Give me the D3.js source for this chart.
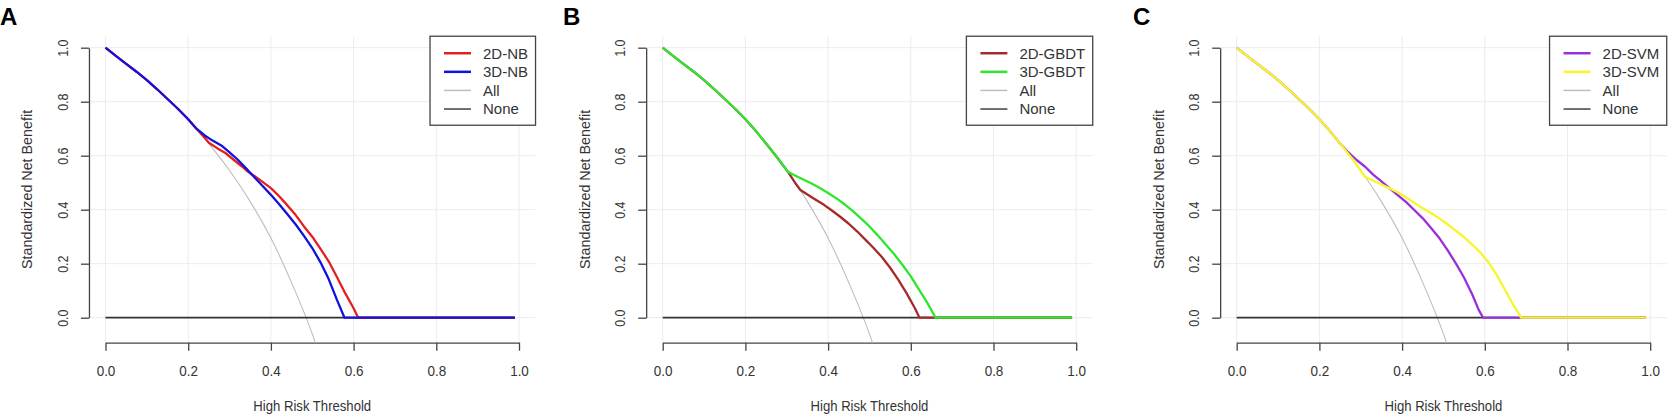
<!DOCTYPE html>
<html>
<head>
<meta charset="utf-8">
<script src="https://cdn.jsdelivr.net/npm/d3@7"></script>
<style>
  body { margin: 0; background: #fff; }
  text { font-family: "Liberation Sans", Arial, sans-serif; }
</style>
</head>
<body>
<svg id="chart" width="1674" height="419"></svg>
<script>
// Ticks
const xTicks = [0, 0.2, 0.4, 0.6, 0.8, 1.0];
const yTicks = [0, 0.2, 0.4, 0.6, 0.8, 1.0];

// Reference strategies (same in the three panels)
const treatAll = [[0, 1.0], [0.05, 0.94], [0.10, 0.88], [0.15, 0.81], [0.20, 0.735], [0.25, 0.645],
  [0.30, 0.545], [0.35, 0.43], [0.40, 0.295], [0.45, 0.13], [0.50, -0.06], [0.52, -0.15]];
const treatNone = [[0, 0], [0.99, 0]];

// Shared start of every model curve (all models equal "treat all" at low thresholds)
const lowStart = [[0, 1.0], [0.025, 0.97], [0.05, 0.94], [0.075, 0.911], [0.10, 0.88],
  [0.125, 0.846], [0.15, 0.81], [0.175, 0.774], [0.20, 0.735]];

// Panel A : Naive Bayes
const nb2D = lowStart.concat([[0.22, 0.70],
  [0.235, 0.675], [0.25, 0.648], [0.27, 0.628], [0.29, 0.61], [0.31, 0.585], [0.33, 0.56],
  [0.345, 0.54], [0.36, 0.525], [0.38, 0.503], [0.40, 0.48], [0.42, 0.45], [0.44, 0.416],
  [0.46, 0.38], [0.48, 0.338], [0.50, 0.30], [0.52, 0.255], [0.54, 0.208], [0.56, 0.15],
  [0.58, 0.09], [0.60, 0.035], [0.611, 0], [0.99, 0]]);
const nb3D = lowStart.concat([[0.22, 0.70],
  [0.24, 0.675], [0.26, 0.655], [0.28, 0.638], [0.30, 0.612], [0.32, 0.585], [0.34, 0.553],
  [0.36, 0.52], [0.38, 0.488], [0.40, 0.455], [0.42, 0.42], [0.44, 0.383], [0.46, 0.345],
  [0.48, 0.303], [0.50, 0.258], [0.52, 0.205], [0.54, 0.142], [0.56, 0.065], [0.578, 0], [0.99, 0]]);

// Panel B : GBDT
const gbdt2D = lowStart.concat([[0.225, 0.692], [0.25, 0.645], [0.275, 0.597],
  [0.303, 0.54], [0.32, 0.50], [0.333, 0.473], [0.35, 0.456], [0.37, 0.437], [0.39, 0.418],
  [0.41, 0.396], [0.43, 0.373], [0.45, 0.348], [0.47, 0.32], [0.49, 0.289], [0.51, 0.258],
  [0.53, 0.225], [0.55, 0.185], [0.57, 0.14], [0.59, 0.09], [0.61, 0.035], [0.621, 0], [0.99, 0]]);
const gbdt3D = lowStart.concat([[0.225, 0.692], [0.25, 0.645], [0.275, 0.597],
  [0.303, 0.54], [0.32, 0.527], [0.34, 0.512], [0.36, 0.497], [0.38, 0.48], [0.40, 0.462],
  [0.42, 0.442], [0.44, 0.42], [0.46, 0.395], [0.48, 0.367], [0.50, 0.338], [0.52, 0.305],
  [0.54, 0.27], [0.56, 0.235], [0.58, 0.195], [0.60, 0.153], [0.62, 0.104], [0.64, 0.055],
  [0.66, 0], [0.99, 0]]);

// Panel C : SVM
const svm2D = lowStart.concat([[0.225, 0.692], [0.25, 0.645],
  [0.265, 0.62], [0.29, 0.584], [0.31, 0.56], [0.33, 0.53], [0.35, 0.505], [0.37, 0.479],
  [0.39, 0.453], [0.41, 0.428], [0.43, 0.398], [0.45, 0.368], [0.47, 0.332], [0.49, 0.295],
  [0.51, 0.25], [0.53, 0.201], [0.55, 0.148], [0.57, 0.085], [0.585, 0.03], [0.596, 0], [0.99, 0]]);
const svm3D = lowStart.concat([[0.225, 0.692], [0.25, 0.645],
  [0.28, 0.588], [0.31, 0.522], [0.33, 0.508], [0.35, 0.493], [0.37, 0.479], [0.39, 0.464],
  [0.41, 0.445], [0.43, 0.425], [0.45, 0.405], [0.47, 0.388], [0.49, 0.368], [0.51, 0.346],
  [0.53, 0.322], [0.55, 0.298], [0.57, 0.27], [0.59, 0.24], [0.61, 0.203], [0.63, 0.155],
  [0.65, 0.10], [0.67, 0.045], [0.688, 0], [0.99, 0]]);

const panels = [
  { label: "A", labelX: 0, x0: 105.5, models: [
    { name: "2D-NB", color: "#e3201f", pts: nb2D },
    { name: "3D-NB", color: "#1212dc", pts: nb3D }] },
  { label: "B", labelX: 563, x0: 662.7, models: [
    { name: "2D-GBDT", color: "#a52a2a", pts: gbdt2D },
    { name: "3D-GBDT", color: "#2ee62e", pts: gbdt3D }] },
  { label: "C", labelX: 1133, x0: 1236.7, models: [
    { name: "2D-SVM", color: "#9a2fdc", pts: svm2D },
    { name: "3D-SVM", color: "#f6f629", pts: svm3D }] }
];

const svg = d3.select("#chart");
const xUnit = 413.5, yUnit = 270, yZero = 317.7;
const textColor = "#333", axisColor = "#444", gridColor = "#ececec";

function drawPanel(p) {
  const x = d3.scaleLinear().domain([0, 1]).range([p.x0, p.x0 + xUnit]);
  const y = d3.scaleLinear().domain([0, 1]).range([yZero, yZero - yUnit]);
  const left = x(-0.04), right = x(1.04), top = y(1.0425), bottom = y(-0.0925);
  const g = svg.append("g");

  const clipId = "clip" + p.label;
  svg.append("clipPath").attr("id", clipId).append("rect")
    .attr("x", left).attr("y", top).attr("width", right - left).attr("height", bottom - top);

  // grid
  g.selectAll("line.vgrid").data(xTicks).enter().append("line")
    .attr("x1", d => x(d)).attr("x2", d => x(d)).attr("y1", top).attr("y2", bottom)
    .attr("stroke", gridColor).attr("stroke-width", 1);
  g.selectAll("line.hgrid").data(yTicks).enter().append("line")
    .attr("x1", left).attr("x2", right).attr("y1", d => y(d)).attr("y2", d => y(d))
    .attr("stroke", gridColor).attr("stroke-width", 1);

  // axes
  const fmt = d3.format(".1f");
  const xAxis = g.append("g").attr("transform", `translate(0,${bottom})`)
    .call(d3.axisBottom(x).tickValues(xTicks).tickSize(8).tickSizeOuter(0).tickFormat(fmt));
  xAxis.attr("font-size", null).attr("font-family", null).attr("color", axisColor);
  xAxis.selectAll("path, line").attr("stroke-width", 1.3);
  xAxis.selectAll("text").attr("y", null).attr("dy", null)
    .attr("fill", textColor).style("font-size", "15px")
    .attr("transform", `translate(0,${376 - bottom}) scale(0.9,1)`);

  const yAxis = g.append("g").attr("transform", `translate(${left},0)`)
    .call(d3.axisLeft(y).tickValues(yTicks).tickSize(8).tickSizeOuter(0).tickFormat(fmt));
  yAxis.attr("font-size", null).attr("font-family", null).attr("color", axisColor);
  yAxis.selectAll("path, line").attr("stroke-width", 1.3);
  yAxis.selectAll("text").attr("x", null).attr("dy", null)
    .attr("text-anchor", "middle").attr("fill", textColor).style("font-size", "14px")
    .attr("transform", "translate(-21,0) rotate(-90) scale(0.89,1)");

  // axis titles
  g.append("text").attr("text-anchor", "middle").attr("fill", textColor).style("font-size", "15px")
    .attr("transform", `translate(${(left + right) / 2},411) scale(0.875,1)`)
    .text("High Risk Threshold");
  g.append("text").attr("text-anchor", "middle").attr("fill", textColor).style("font-size", "15px")
    .attr("transform", `translate(${left - 56.5},${(top + bottom) / 2}) rotate(-90) scale(0.955,1)`)
    .text("Standardized Net Benefit");

  // curves
  const line = d3.line().x(d => x(d[0])).y(d => y(d[1]));
  const smooth = d3.line().x(d => x(d[0])).y(d => y(d[1])).curve(d3.curveMonotoneX);
  const curves = g.append("g").attr("clip-path", `url(#${clipId})`);
  curves.append("path").datum(treatAll).attr("d", smooth)
    .attr("fill", "none").attr("stroke", "#bdbdbd").attr("stroke-width", 1.1);
  curves.append("path").datum(treatNone).attr("d", line)
    .attr("fill", "none").attr("stroke", "#333").attr("stroke-width", 1.7);
  p.models.forEach(m => {
    curves.append("path").datum(m.pts).attr("d", line)
      .attr("fill", "none").attr("stroke", m.color).attr("stroke-width", 2.3)
      .attr("stroke-linejoin", "round");
  });

  // legend
  const items = [
    { name: p.models[0].name, color: p.models[0].color, w: 2.5 },
    { name: p.models[1].name, color: p.models[1].color, w: 2.5 },
    { name: "All", color: "#bdbdbd", w: 1.5 },
    { name: "None", color: "#111", w: 1.2 }
  ];
  const lg = g.append("g");
  const box = lg.append("rect").attr("fill", "#fff").attr("stroke", axisColor).attr("stroke-width", 1.3);
  const rows = lg.selectAll("g.row").data(items).enter().append("g")
    .attr("transform", (d, i) => `translate(0,${top + 17 + i * 18.6})`);
  rows.append("line").attr("x1", 14).attr("x2", 41)
    .attr("stroke", d => d.color).attr("stroke-width", d => d.w);
  const labels = rows.append("text").attr("x", 53).attr("y", 5.4)
    .attr("fill", textColor).style("font-size", "15px").text(d => d.name);
  let maxW = 0;
  labels.each(function () { maxW = Math.max(maxW, this.getComputedTextLength()); });
  const boxW = 53 + maxW + 7.5;
  box.attr("x", 0).attr("y", top).attr("width", boxW).attr("height", 89);
  lg.attr("transform", `translate(${right - boxW},0)`);

  // panel letter
  svg.append("text").attr("x", p.labelX).attr("y", 25)
    .attr("fill", "#000").style("font-size", "24px").style("font-weight", "bold")
    .text(p.label);
}

panels.forEach(drawPanel);
</script>
</body>
</html>
